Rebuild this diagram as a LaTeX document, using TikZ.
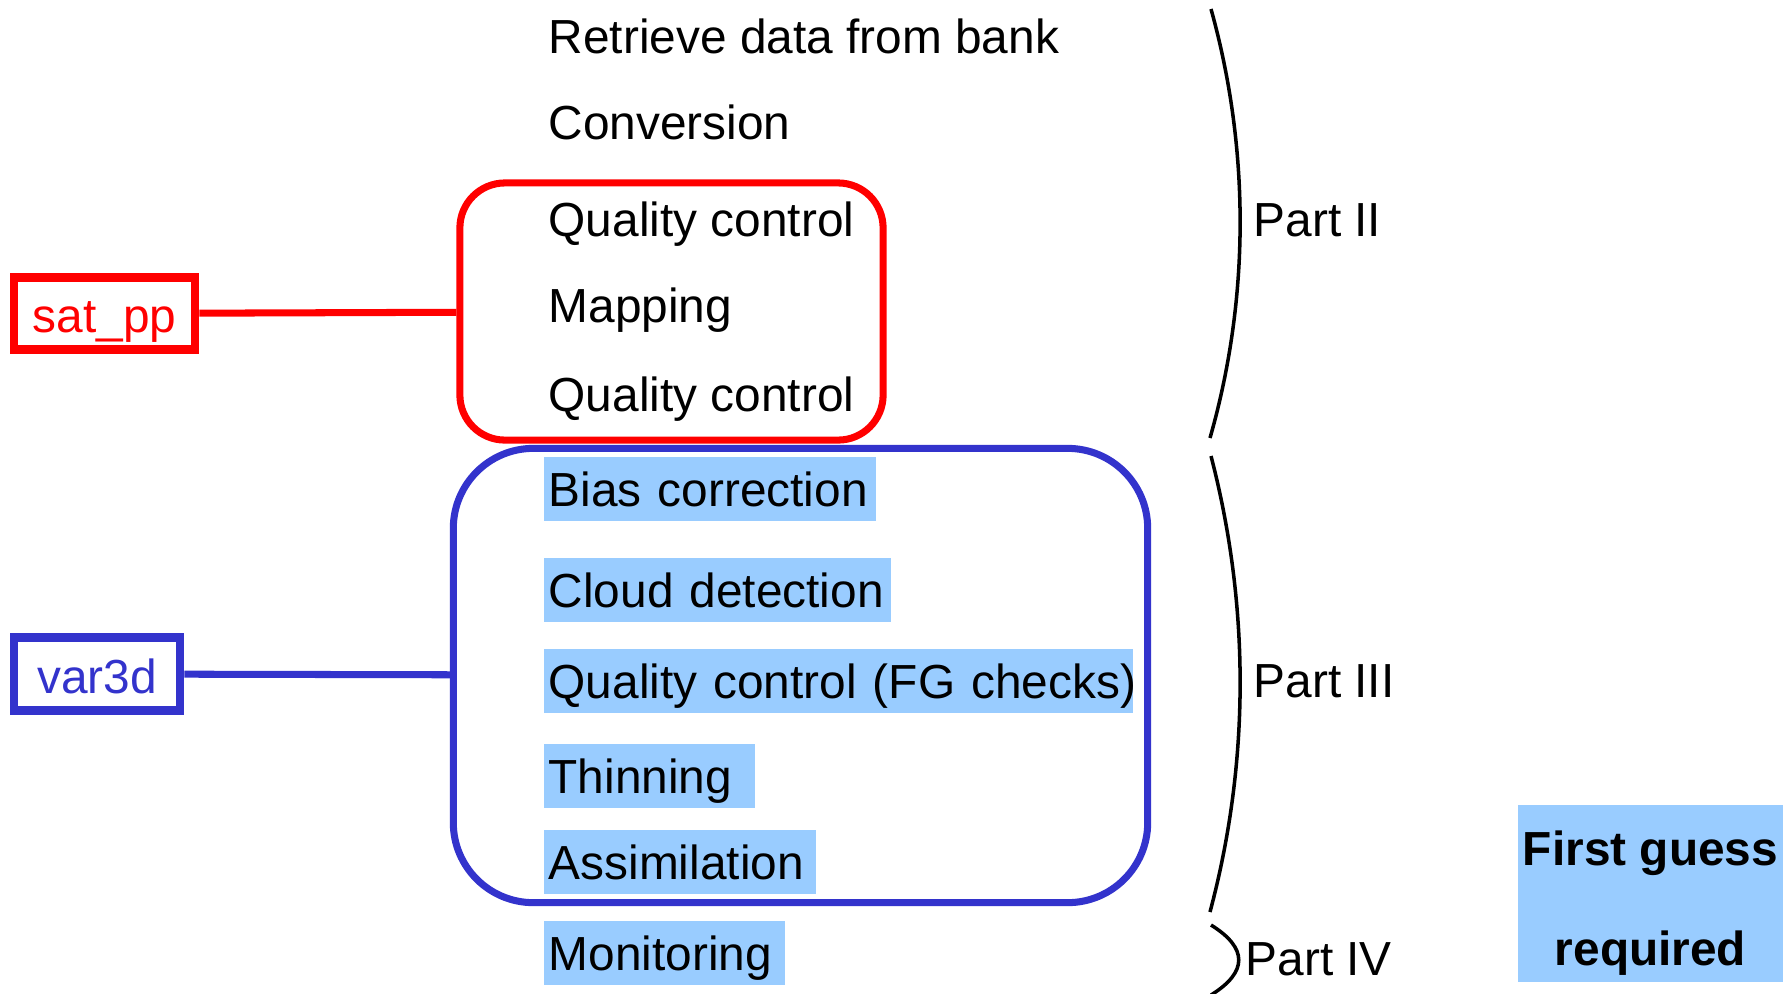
\documentclass[tikz,border=0pt]{standalone}
\usepackage{fontspec}
\setmainfont{Liberation Sans}
\usetikzlibrary{positioning}
\definecolor{hlblue}{HTML}{99CCFF}
\definecolor{varblue}{HTML}{3333CC}
\begin{document}
\begin{tikzpicture}[x=0.01cm,y=-0.01cm]

\tikzstyle{txt} = [anchor=west, inner xsep=0.05cm, inner ysep=0.05cm, text height=0.44cm, text depth=0.10cm, font=\fontsize{13.6}{16}\selectfont]
\tikzstyle{hl} = [txt, fill=hlblue, minimum height=0.64cm, align=left]
\tikzstyle{grp} = [line width=2pt, minimum height=0.1cm]
\tikzstyle{lab} = [line width=2.4pt, inner ysep=0pt, text height=0.44cm, text depth=0.06cm, font=\fontsize{13.6}{16}\selectfont]
\tikzstyle{brace} = [line width=1pt, black]
\useasboundingbox (0,0) rectangle (1787,993);

% groups
\node (satgrp) [grp, draw=red, rounded corners=0.45cm, minimum width=4.23cm, minimum height=2.57cm] at (671.5,311.5) {};
\node (vargrp) [grp, draw=varblue, rounded corners=0.8cm, minimum width=6.94cm, minimum height=4.54cm] at (800.5,675.5) {};

% steps
\node (retrieve) [txt] at (543,36) {Retrieve data from bank};
\node (conv) [txt] at (543,122) {Conversion};
\node (qca) [txt] at (543,219) {Quality control};
\node (mapping) [txt] at (543,305) {Mapping};
\node (qcb) [txt] at (543,394) {Quality control};
\node (bias) [hl, text width=3.22cm] at (543,489) {Bias correction};
\node (cloud) [hl, text width=3.37cm] at (543,590) {Cloud detection};
\node (qcfg) [hl, text width=5.79cm] at (543,681) {\mbox{Quality control (FG checks)}};
\node (thin) [hl, text width=2.01cm] at (543,776) {Thinning};
\node (assim) [hl, text width=2.62cm] at (543,862) {Assimilation};
\node (monitor) [hl, text width=2.31cm] at (543,953) {Monitoring};

% programs
\node (satpp) [lab, draw=red, text=red, minimum width=1.81cm, minimum height=0.72cm] at (104.5,313.5) {sat\_pp};
\node (var3d) [lab, draw=varblue, text=varblue, minimum width=1.66cm, minimum height=0.73cm] at (97,674) {var3d};
\draw [red, line width=2pt] (satpp) -- (satgrp);
\draw [varblue, line width=2pt] (var3d) -- (vargrp);

% parts
\coordinate (p2a) at (1211,9);
\coordinate (p2b) at (1210,438);
\coordinate (p3a) at (1211,456);
\coordinate (p3b) at (1210,912);
\coordinate (p4a) at (1211,925);
\coordinate (p4b) at (1211,995);
\draw [brace] (p2a) .. controls +(39,140) and +(40,-140) .. (p2b);
\draw [brace] (p3a) .. controls +(39,150) and +(40,-150) .. (p3b);
\draw [brace] (p4a) .. controls +(37,23) and +(37,-23) .. (p4b);
\node (part2) [txt] at (1248,219) {Part II};
\node (part3) [txt] at (1248,680) {Part III};
\node (part4) [txt] at (1240,958) {Part IV};

\node (fguess) [fill=hlblue, inner sep=0pt, minimum width=2.65cm, minimum height=1.77cm, align=center, font=\fontsize{13.6}{28.4}\selectfont\bfseries] at (1650.5,893.5) {\rule{0pt}{0.53cm}First guess\\required};

\end{tikzpicture}
\end{document}
